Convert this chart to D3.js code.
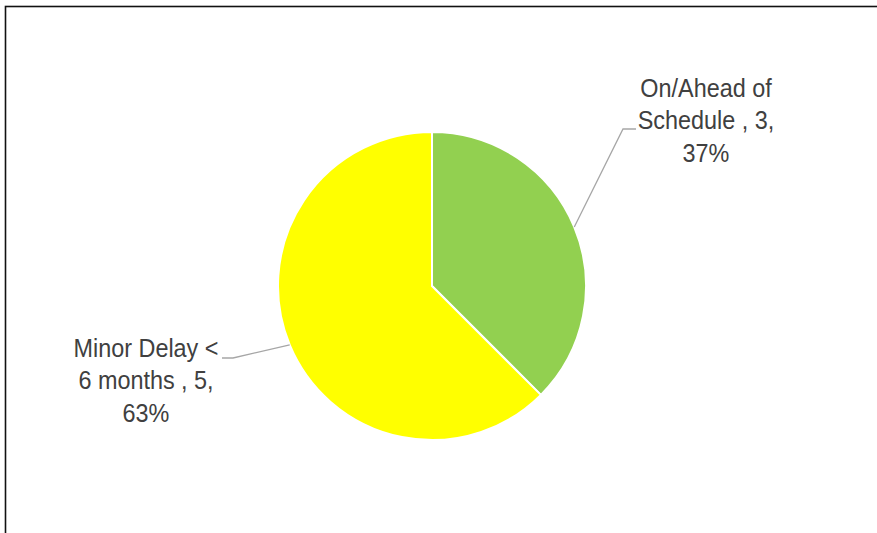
<!DOCTYPE html>
<head>
  <meta charset="utf-8">
  <script src="https://d3js.org/d3.v7.min.js"></script>
  <style>
    body { margin: 0; background: #fff; }
    svg { display: block; }
    .label { font-family: "Liberation Sans", Arial, sans-serif; font-size: 26px; fill: #404040; }
    .leader { fill: none; stroke: #a6a6a6; stroke-width: 1.3px; }
  </style>
</head>
<body>
  <svg id="chart" width="877" height="533"></svg>
  <script>
    // data
    var categories = ["On/Ahead of Schedule ", "Minor Delay < 6 months "];
    var values = [3, 5];
    var colors = ["#92D050", "#FFFF00"];
    var labelLines = [
      ["On/Ahead of", "Schedule , 3,", "37%"],
      ["Minor Delay <", "6 months , 5,", "63%"]
    ];

    var svg = d3.select("#chart");
    var cx = 432, cy = 286, r = 154;

    // frame (only top and left edges show in the picture)
    svg.append("rect")
      .attr("x", 5.5).attr("y", 6.5)
      .attr("width", 1000).attr("height", 1000)
      .attr("fill", "none")
      .attr("stroke", "#111")
      .attr("stroke-width", 1.6);

    var pie = d3.pie().sort(null).value(d => d);
    var arcs = pie(values);
    var total = d3.sum(values);

    var arc = d3.arc().innerRadius(0).outerRadius(r);
    var edge = d3.arc().innerRadius(r).outerRadius(r);

    var g = svg.append("g").attr("transform", "translate(" + cx + "," + cy + ")");

    g.selectAll("path.slice")
      .data(arcs)
      .join("path")
      .attr("class", "slice")
      .attr("d", arc)
      .attr("fill", (d, i) => colors[i])
      .attr("stroke", "#fff")
      .attr("stroke-width", 2);

    // label placement (relative to pie centre)
    var labelPos = [
      { x: 274, y: -189, elbow: [191, -157], end: [204, -157] },
      { x: -286, y: 71, elbow: [-199, 72], end: [-210, 72] }
    ];

    arcs.forEach(function (d, i) {
      var p = edge.centroid(d);
      var lp = labelPos[i];
      g.append("polyline")
        .attr("class", "leader")
        .attr("points", [p, lp.elbow, lp.end].map(q => q.join(",")).join(" "));

      var t = g.append("text")
        .attr("class", "label")
        .attr("text-anchor", "middle")
        .attr("transform", "translate(" + lp.x + "," + lp.y + ") scale(0.9,1)");
      labelLines[i].forEach(function (line, j) {
        t.append("tspan")
          .attr("x", 0)
          .attr("y", j * 32.3)
          .text(line);
      });
    });
  </script>
</body>
